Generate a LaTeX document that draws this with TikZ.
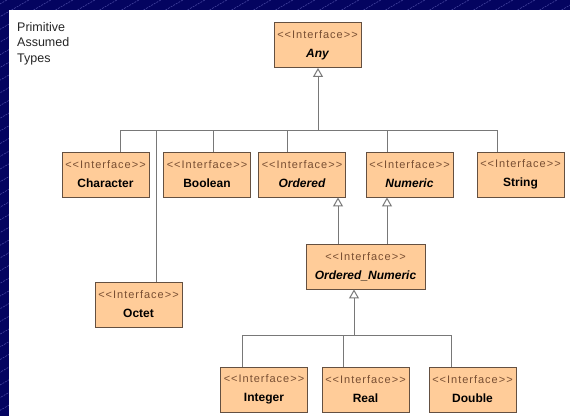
\documentclass[tikz,border=0pt]{standalone}
\usepackage{fontspec}
\newfontfamily\umlfont{Liberation Sans}
\newfontfamily\stfont{Liberation Sans}[LetterSpace=9]
\usetikzlibrary{arrows.meta, positioning}

\definecolor{navy}{RGB}{4,4,96}
\definecolor{hatch}{RGB}{70,70,160}
\definecolor{peach}{RGB}{255,204,153}
\definecolor{boxline}{RGB}{100,80,65}
\definecolor{stereo}{RGB}{120,78,50}
\definecolor{wire}{RGB}{120,120,120}

% stereotype line + interface name
\newcommand{\iface}[1]{{\stfont\fontsize{11}{19}\selectfont\color{stereo}<<Interface>>}\\{\bfseries #1}}

\begin{document}
\begin{tikzpicture}[x=1pt, y=-1pt]

% Define styles
\tikzstyle{iface} = [rectangle, draw=boxline, fill=peach, line width=0.9pt,
    minimum width=87pt, minimum height=45pt, inner sep=0pt, align=center,
    font=\umlfont\fontsize{12}{19}\selectfont]
\tikzstyle{line} = [draw=wire, line width=1pt]
\tikzstyle{gen} = [line, -{Triangle[open, fill=white, width=10pt, length=9pt]}]

\useasboundingbox (0,0) rectangle (570,416);

% Slide background
\fill[navy] (0,0) rectangle (570,416);
\begin{scope}
  \clip (0,0) rectangle (570,10) (0,0) rectangle (9,416);
  \foreach \k in {0,...,36}
    \draw[hatch, line width=0.6pt, dash pattern=on 2pt off 1pt] (-760+22*\k,430) -- ++(750,-433);
\end{scope}
\fill[white] (9,10) rectangle (570,416);

% Title
\node [anchor=north west, inner sep=0pt, align=left, text=black!85, font=\umlfont\fontsize{12.5}{15.5}\selectfont] (title) at (17,22) {Primitive\\Assumed\\Types};

% Place nodes
\node [iface] (any) at (317.5,45) {\iface{\itshape Any}};
\node [iface] (char) at (105.5,174.5) {\iface{Character}};
\node [iface] (bool) at (207,174.5) {\iface{Boolean}};
\node [iface] (ordered) at (302,174.5) {\iface{\itshape Ordered}};
\node [iface] (numeric) at (409.5,174.5) {\iface{\itshape Numeric}};
\node [iface] (string) at (520.5,174.5) {\iface{String}};
\node [iface] (octet) at (138.5,304.5) {\iface{Octet}};
\node [iface, minimum width=119pt] (ordnum) at (365.5,266.5) {\iface{\itshape Ordered\_Numeric}};
\node [iface] (integer) at (264,389.5) {\iface{Integer}};
\node [iface] (real) at (365.5,389.5) {\iface{Real}};
\node [iface] (double) at (472.5,389.5) {\iface{Double}};

% Junctions
\coordinate (anyjoin) at (318,130);
\coordinate (onjoin) at (354,335);
\coordinate (ordfoot) at ([xshift=-27.5pt]ordnum.north);
\coordinate (numfoot) at ([xshift=21.5pt]ordnum.north);

% Draw edges
\draw [gen] (anyjoin) -- (anyjoin |- any.south);
\draw [line] ([xshift=14.5pt]char.north) |- (anyjoin);
\draw [line] ([xshift=17.5pt]octet.north) |- (anyjoin);
\draw [line] ([xshift=6pt]bool.north) |- (anyjoin);
\draw [line] ([xshift=-15pt]ordered.north) |- (anyjoin);
\draw [line] ([xshift=-22.5pt]numeric.north) |- (anyjoin);
\draw [line] ([xshift=-23.5pt]string.north) |- (anyjoin);

\draw [gen] (ordfoot) -- (ordfoot |- ordered.south);
\draw [gen] (numfoot) -- (numfoot |- numeric.south);

\draw [gen] (onjoin) -- (onjoin |- ordnum.south);
\draw [line] ([xshift=-22pt]integer.north) |- (onjoin);
\draw [line] ([xshift=-22.5pt]real.north) |- (onjoin);
\draw [line] ([xshift=-21.5pt]double.north) |- (onjoin);

\end{tikzpicture}
\end{document}
